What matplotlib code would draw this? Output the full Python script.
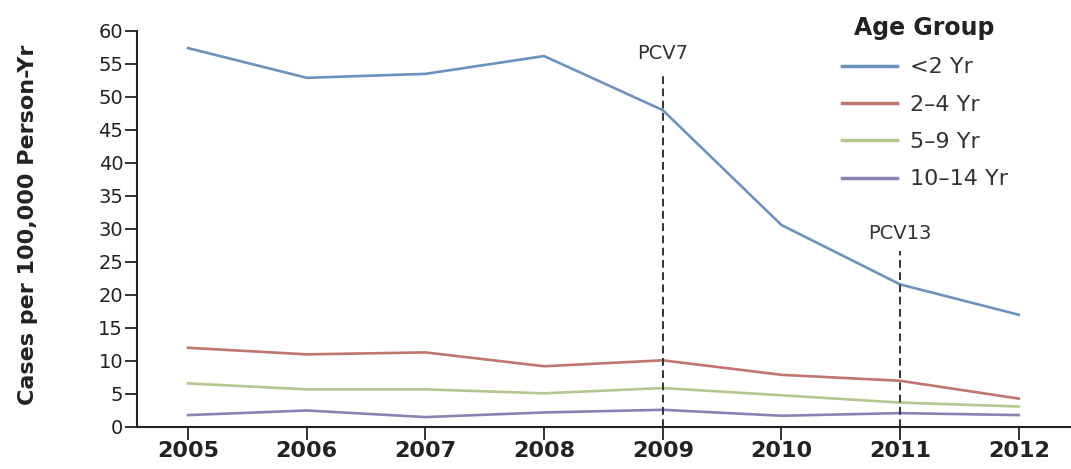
import matplotlib
matplotlib.use("Agg")
from matplotlib import pyplot as plt

plt.rcParams['font.family'] = ['DejaVu Sans']

years = [2005, 2006, 2007, 2008, 2009, 2010, 2011, 2012]
under2 = [57.4, 52.9, 53.5, 56.2, 48.0, 30.6, 21.6, 17.0]
age2_4 = [12.0, 11.0, 11.3, 9.2, 10.1, 7.9, 7.0, 4.3]
age5_9 = [6.6, 5.7, 5.7, 5.1, 5.9, 4.8, 3.7, 3.1]
age10_14 = [1.8, 2.5, 1.5, 2.2, 2.6, 1.7, 2.1, 1.8]
labels = ["<2 Yr", "2\u20134 Yr", "5\u20139 Yr", "10\u201314 Yr"]
colors = ["#6b93bd", "#c07570", "#b3c78e", "#8a82b5"]

vaccines = ["PCV7", "PCV13"]
vacc_years = [2009, 2011]
vacc_tops = [53.8, 26.6]

fig = plt.figure(figsize=(10.71, 4.69), dpi=100)
ax = fig.add_axes([0.128, 0.0896, 0.872, 0.8444])

for vals, lab, col in zip([under2, age2_4, age5_9, age10_14], labels, colors):
    ax.plot(years, vals, color=col, lw=1.9, label=lab, solid_joinstyle='round')

for name, yr, top in zip(vaccines, vacc_years, vacc_tops):
    ax.plot([yr, yr], [0, top], color="#333333", lw=1.4, ls=(0, (4, 2.3)))
    ax.text(yr, top + 1.3, name, ha='center', va='bottom', fontsize=14, color="#333333")

ax.set_xlim(2004.57, 2012.44)
ax.set_ylim(0, 60)
ax.set_yticks(range(0, 61, 5))
ax.set_xticks(years)
ax.tick_params(axis='y', direction='out', length=9, width=1.3, labelsize=14,
               colors="#222222", pad=1)
ax.tick_params(axis='x', direction='out', length=9, width=1.3, labelsize=16,
               colors="#222222", pad=1)
for lbl in ax.get_xticklabels():
    lbl.set_fontweight('bold')
for side in ['top', 'right']:
    ax.spines[side].set_visible(False)
for side in ['left', 'bottom']:
    ax.spines[side].set_linewidth(1.5)
    ax.spines[side].set_color("#222222")

fig.text(28 / 1071, 0.52, "Cases per 100,000 Person-Yr", rotation=90,
         ha='center', va='center', fontsize=16, fontweight='bold', color="#222222")

leg = ax.legend(loc='upper left', bbox_to_anchor=(0.745, 1.06), frameon=False,
                title="Age Group", fontsize=16, handlelength=2.5, handletextpad=0.55,
                labelspacing=0.78, alignment='center', borderaxespad=0)
leg.get_title().set_fontweight('bold')
leg.get_title().set_fontsize(17)
leg.get_title().set_color("#222222")
for t in leg.get_texts():
    t.set_color("#333333")
for h in leg.get_lines():
    h.set_linewidth(2.5)

fig.savefig("out.png", dpi=100)
